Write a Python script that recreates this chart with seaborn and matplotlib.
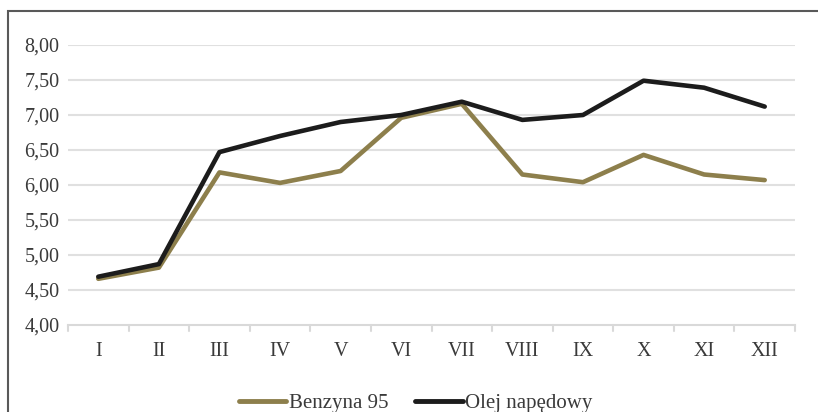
import pandas as pd
import numpy as np
import matplotlib.pyplot as plt
import seaborn as sns
from matplotlib.patches import Rectangle

# Dane: ceny paliw w kolejnych miesiącach
months = ["I", "II", "III", "IV", "V", "VI", "VII", "VIII", "IX", "X", "XI", "XII"]
benzyna_95 = [4.66, 4.82, 6.18, 6.03, 6.20, 6.96, 7.16, 6.15, 6.04, 6.43, 6.15, 6.07]
olej_napedowy = [4.69, 4.87, 6.47, 6.70, 6.90, 7.00, 7.19, 6.93, 7.00, 7.49, 7.39, 7.12]
series_names = ["Benzyna 95", "Olej napędowy"]
y_ticks = [4.0, 4.5, 5.0, 5.5, 6.0, 6.5, 7.0, 7.5, 8.0]

df = pd.DataFrame({
    "miesiac": months * 2,
    "cena": benzyna_95 + olej_napedowy,
    "paliwo": [series_names[0]] * len(months) + [series_names[1]] * len(months),
})

sns.set_style("white")
plt.rcParams["font.family"] = ["Liberation Serif", "DejaVu Serif"]
text_color = "#3a3a3a"

fig = plt.figure(figsize=(8.18, 4.12), dpi=100)
ax = fig.add_axes([68 / 818, 1 - 325 / 412, 727 / 818, 280 / 412])

palette = {series_names[0]: "#8d7f4c", series_names[1]: "#1c1c1c"}
sns.lineplot(data=df, x="miesiac", y="cena", hue="paliwo", palette=palette,
             linewidth=3.3, sort=False, ax=ax, legend=False)

ax.set_xlim(-0.5, len(months) - 0.5)
ax.set_ylim(4.0, 8.0)
ax.set_yticks(y_ticks)
ax.set_yticklabels([f"{v:.2f}".replace(".", ",") for v in y_ticks],
                   fontsize=14.5, color=text_color)
ax.set_xticks(range(len(months)))
ax.set_xticklabels(months, fontsize=14.5, color=text_color)
ax.set_xlabel("")
ax.set_ylabel("")

# siatka pozioma
for v in y_ticks[1:]:
    ax.axhline(v, color="#e0e0e0", linewidth=1.5, zorder=0)

for s in ["top", "right", "left"]:
    ax.spines[s].set_visible(False)
ax.spines["bottom"].set_color("#d9d9d9")
ax.spines["bottom"].set_linewidth(1.5)

ax.tick_params(axis="y", length=0, pad=6)
ax.tick_params(axis="x", length=0, pad=12)

# znaczniki między kategoriami
for b in np.arange(-0.5, len(months), 1.0):
    ax.plot([b, b], [0, -0.022], transform=ax.get_xaxis_transform(),
            color="#d9d9d9", linewidth=1.5, clip_on=False)

# legenda
handles = [plt.Line2D([], [], color=palette[n], linewidth=3.5) for n in series_names]
fig.legend(handles, series_names, loc="center", bbox_to_anchor=(0.508, 1 - 403 / 412),
           ncol=2, frameon=False, fontsize=15, handlelength=2.3, handletextpad=0.1,
           columnspacing=1.3, labelcolor=text_color)

# ramka wykresu
fig.patches.append(Rectangle((8 / 818, -0.05), 1.0, 1 - 11 / 412 + 0.05,
                             transform=fig.transFigure, fill=False,
                             edgecolor="#595959", linewidth=1.5))

fig.savefig("out.png", dpi=100)
